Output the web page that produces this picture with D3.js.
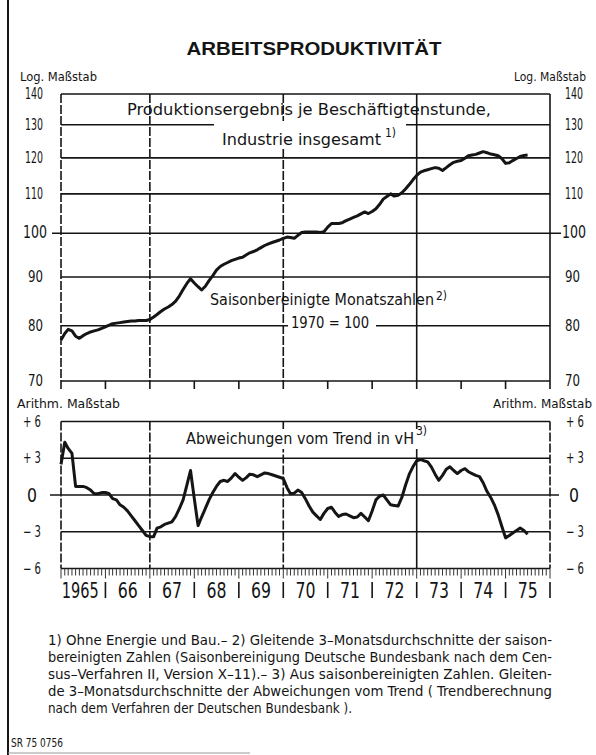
<!DOCTYPE html>
<html>
<head>
<meta charset="utf-8">
<script src="https://cdn.jsdelivr.net/npm/d3@7"></script>
<style>
body { margin: 0; background: #fff; }
text { font-family: "Liberation Sans Narrow", "DejaVu Sans Condensed", sans-serif; fill: #141414; }
</style>
</head>
<body>
<div class="chart"></div>
<script>
var w = 596;
var h = 755;

var years = ["1965", "66", "67", "68", "69", "70", "71", "72", "73", "74", "75"];
var logTicks = [70, 80, 90, 100, 110, 120, 130, 140];
var trendTicks = [-6, -3, 0, 3, 6];
var trendLabels = ["\u2212 6", "\u2212 3", "0", "+ 3", "+ 6"];

// Produktionsergebnis je Beschäftigtenstunde, 1970 = 100, monthly from Jan 1965
var productivity = [
    77.3, 78.5, 79.3, 79.0, 78.0, 77.6, 78.1, 78.5, 78.8, 79.0, 79.2, 79.5,
    79.8, 80.1, 80.4, 80.5, 80.6, 80.7, 80.8, 80.9, 80.9, 81.0, 81.0, 81.0,
    81.2, 81.7, 82.2, 82.8, 83.3, 83.7, 84.2, 84.9, 86.0, 87.3, 88.6, 89.6,
    88.7, 87.9, 87.2, 88.0, 89.2, 90.3, 91.5, 92.3, 92.8, 93.2, 93.6, 93.9,
    94.2, 94.4, 94.9, 95.4, 95.7, 96.1, 96.6, 97.1, 97.5, 97.8, 98.1, 98.4,
    98.8, 99.1, 99.0, 98.8, 99.5, 100.2, 100.3, 100.3, 100.3, 100.3, 100.2, 100.4,
    101.5, 102.4, 102.4, 102.4, 102.6, 103.1, 103.5, 103.9, 104.3, 104.8, 105.3, 104.9,
    105.4, 106.1, 107.2, 108.6, 109.3, 110.0, 109.4, 109.6, 110.3, 111.3, 112.5, 113.8,
    115.0, 115.9, 116.3, 116.6, 116.9, 117.2, 117.0, 116.4, 117.2, 118.0, 118.7, 119.0,
    119.2, 119.9, 120.6, 120.8, 121.0, 121.4, 121.8, 121.5, 121.1, 120.9, 120.6, 119.8,
    118.4, 118.6, 119.2, 119.8, 120.4, 120.7, 120.8
];

// Abweichungen vom Trend in vH, monthly from Jan 1965
var deviation = [
    2.5, 4.3, 3.8, 3.4, 0.7, 0.7, 0.7, 0.6, 0.4, 0.1, 0.1, 0.2,
    0.2, 0.1, -0.3, -0.4, -0.8, -1.0, -1.3, -1.7, -2.1, -2.5, -2.9, -3.3,
    -3.4, -3.4, -2.7, -2.6, -2.4, -2.3, -2.2, -1.75, -1.1, -0.4, 0.8, 2.0,
    -0.3, -2.5, -1.8, -1.1, -0.4, 0.2, 0.7, 1.1, 1.2, 1.1, 1.4, 1.75,
    1.45, 1.2, 1.4, 1.7, 1.65, 1.5, 1.65, 1.8, 1.75, 1.65, 1.55, 1.45,
    1.35, 0.6, 0.1, 0.15, 0.4, 0.2, -0.3, -0.9, -1.4, -1.7, -2.0, -1.5,
    -1.1, -1.0, -1.4, -1.75, -1.6, -1.55, -1.7, -1.85, -1.8, -1.5, -1.8, -2.1,
    -1.3, -0.4, -0.1, 0.0, -0.4, -0.8, -0.85, -0.9, -0.2, 0.8, 1.7, 2.3,
    2.8, 2.9, 2.8, 2.7, 2.3, 1.7, 1.2, 1.6, 2.1, 2.3, 2.0, 1.75,
    2.0, 2.15, 1.9, 1.75, 1.6, 1.5, 1.0, 0.3, -0.2, -0.8, -1.6, -2.55,
    -3.5, -3.3, -3.1, -2.9, -2.7, -2.9, -3.2
];

var footnotes = [
    "1) Ohne Energie und Bau.\u2013 2) Gleitende 3\u2013Monatsdurchschnitte der saison-",
    "bereinigten Zahlen (Saisonbereinigung Deutsche Bundesbank nach dem Cen-",
    "sus\u2013Verfahren II, Version X\u201311).\u2013 3) Aus saisonbereinigten Zahlen. Gleiten-",
    "de 3\u2013Monatsdurchschnitte der Abweichungen vom Trend ( Trendberechnung",
    "nach dem Verfahren der Deutschen Bundesbank )."
];

function monthDate(i) {
    return new Date(1965, i, 1);
}

var x = d3.scaleTime()
    .domain([new Date(1965, 0, 1), new Date(1976, 0, 1)])
    .range([61, 550]);

var yTop = d3.scaleLog()
    .domain([70, 140])
    .range([381, 94]);

var yBot = d3.scaleLinear()
    .domain([-6, 6])
    .range([568.5, 421.5]);

var svg = d3.select(".chart")
    .append("svg")
    .attr("width", w)
    .attr("height", h);

var ink = "#151515";

// page frame on the left and bottom
svg.append("line")
    .attr("x1", 8).attr("x2", 8).attr("y1", 0).attr("y2", h)
    .attr("stroke", ink).attr("stroke-width", 2);
svg.append("line")
    .attr("x1", 8).attr("x2", 250).attr("y1", 753).attr("y2", 753)
    .attr("stroke", "#999").attr("stroke-width", 1);

function label(px, py, str, size, len, anchor) {
    var t = svg.append("text")
        .attr("x", px)
        .attr("y", py)
        .attr("font-size", size)
        .attr("text-anchor", anchor || "start")
        .text(str);
    if (len) {
        t.attr("textLength", len).attr("lengthAdjust", "spacingAndGlyphs");
    }
    return t;
}

// narrow widths for tick numbers, like the condensed print face
function numWidth(s) {
    if (s === "100") return 24;
    if (s === "0") return 9;
    return s.length >= 3 ? 18 : 15;
}

var x0 = x.range()[0], x1 = x.range()[1];
var yearStarts = d3.timeYear.range(new Date(1965, 0, 1), new Date(1977, 0, 1));

// ---- upper panel: log scale ----
var gTop = svg.append("g");

gTop.selectAll("line.h")
    .data(logTicks)
    .enter()
    .append("line")
    .attr("class", "h")
    .attr("x1", function(d) { return d === 100 ? 52 : x0; })
    .attr("x2", function(d) { return d === 100 ? 561 : x1; })
    .attr("y1", function(d) { return yTop(d); })
    .attr("y2", function(d) { return yTop(d); })
    .attr("stroke", ink)
    .attr("stroke-width", 1.6);

gTop.selectAll("line.v")
    .data([1965, 1967, 1970, 1973, 1976])
    .enter()
    .append("line")
    .attr("class", "v")
    .attr("x1", function(d) { return x(new Date(d, 0, 1)); })
    .attr("x2", function(d) { return x(new Date(d, 0, 1)); })
    .attr("y1", yTop(140))
    .attr("y2", yTop(70))
    .attr("stroke", ink)
    .attr("stroke-width", 1.6)
    .attr("stroke-dasharray", function(d) { return d === 1967 || d === 1970 || d === 1965 ? "9,2" : null; });

// year ticks below the 70 line
gTop.selectAll("line.t")
    .data(yearStarts)
    .enter()
    .append("line")
    .attr("class", "t")
    .attr("x1", function(d) { return x(d); })
    .attr("x2", function(d) { return x(d); })
    .attr("y1", yTop(70))
    .attr("y2", yTop(70) + 8)
    .attr("stroke", ink)
    .attr("stroke-width", 1.6);

// labels inside upper panel
label(127, 115, "Produktionsergebnis je Besch\u00e4ftigtenstunde,", 16, 364);
svg.append("rect")
    .attr("x", 214).attr("y", 121).attr("width", 192).attr("height", 27)
    .attr("fill", "#fff");
label(222, 145, "Industrie insgesamt", 16, 159);
label(385, 137, "1)", 12);
label(210, 305, "Saisonbereinigte Monatszahlen", 16, 224);
label(436, 300, "2)", 12);
svg.append("rect")
    .attr("x", 288).attr("y", 313).attr("width", 88).attr("height", 18)
    .attr("fill", "#fff");
label(291, 328, "1970 = 100", 16, 78);

gTop.append("path")
    .datum(productivity)
    .attr("fill", "none")
    .attr("stroke", ink)
    .attr("stroke-width", 3)
    .attr("stroke-linejoin", "round")
    .attr("d", d3.line()
        .x(function(d, i) { return x(monthDate(i)); })
        .y(function(d) { return yTop(d); }));

// axis labels upper
gTop.selectAll("text.l")
    .data(logTicks)
    .enter()
    .append("text")
    .attr("class", "l")
    .attr("x", function(d) { return d === 100 ? 47 : 43; })
    .attr("y", function(d) { return yTop(d) + 5; })
    .attr("text-anchor", "end")
    .attr("font-size", function(d) { return d === 100 ? 18 : 15; })
    .attr("textLength", function(d) { return numWidth(String(d)); })
    .attr("lengthAdjust", "spacingAndGlyphs")
    .text(function(d) { return d; });

gTop.selectAll("text.r")
    .data(logTicks)
    .enter()
    .append("text")
    .attr("class", "r")
    .attr("x", function(d) { return d === 100 ? 562 : 565; })
    .attr("y", function(d) { return yTop(d) + 5; })
    .attr("font-size", function(d) { return d === 100 ? 18 : 15; })
    .attr("textLength", function(d) { return numWidth(String(d)); })
    .attr("lengthAdjust", "spacingAndGlyphs")
    .text(function(d) { return d; });

label(20, 81, "Log. Ma\u00dfstab", 13, 77);
label(514, 81, "Log. Ma\u00dfstab", 13, 72);

// ---- lower panel: deviations ----
var gBot = svg.append("g");

gBot.selectAll("line.h")
    .data(trendTicks)
    .enter()
    .append("line")
    .attr("class", "h")
    .attr("x1", function(d) { return d === 0 ? 50 : x0; })
    .attr("x2", function(d) { return d === 0 ? 559 : x1; })
    .attr("y1", function(d) { return yBot(d); })
    .attr("y2", function(d) { return yBot(d); })
    .attr("stroke", ink)
    .attr("stroke-width", 1.6);

gBot.selectAll("line.v")
    .data([1965, 1967, 1970, 1973, 1976])
    .enter()
    .append("line")
    .attr("class", "v")
    .attr("x1", function(d) { return x(new Date(d, 0, 1)); })
    .attr("x2", function(d) { return x(new Date(d, 0, 1)); })
    .attr("y1", yBot(6))
    .attr("y2", yBot(-6))
    .attr("stroke", ink)
    .attr("stroke-width", 1.6)
    .attr("stroke-dasharray", function(d) { return d === 1973 ? null : "9,2"; });

// month ticks below the -6 line
gBot.selectAll("line.m")
    .data(d3.timeMonth.range(new Date(1965, 0, 1), new Date(1976, 1, 1)))
    .enter()
    .append("line")
    .attr("class", "m")
    .attr("x1", function(d) { return x(d); })
    .attr("x2", function(d) { return x(d); })
    .attr("y1", yBot(-6))
    .attr("y2", function(d) { return yBot(-6) + (d.getMonth() === 0 ? 10 : 7); })
    .attr("stroke", "#333")
    .attr("stroke-width", 1);

// year separators in the label row
gBot.selectAll("line.s")
    .data(yearStarts.slice(1))
    .enter()
    .append("line")
    .attr("class", "s")
    .attr("x1", function(d) { return x(d); })
    .attr("x2", function(d) { return x(d); })
    .attr("y1", 582)
    .attr("y2", 598)
    .attr("stroke", ink)
    .attr("stroke-width", 1.6);

gBot.selectAll("text.y")
    .data(years)
    .enter()
    .append("text")
    .attr("class", "y")
    .attr("x", function(d, i) {
        return (x(new Date(1965 + i, 0, 1)) + x(new Date(1966 + i, 0, 1))) / 2 - (i === 0 ? 3 : 0);
    })
    .attr("y", 598)
    .attr("text-anchor", "middle")
    .attr("font-size", 21)
    .attr("textLength", function(d) { return d.length === 4 ? 37 : 20; })
    .attr("lengthAdjust", "spacingAndGlyphs")
    .text(function(d) { return d; });

svg.append("rect")
    .attr("x", 183).attr("y", 429).attr("width", 250).attr("height", 20)
    .attr("fill", "#fff");
label(186, 444, "Abweichungen vom Trend in vH", 16, 228);
label(416, 435, "3)", 12);

gBot.append("path")
    .datum(deviation)
    .attr("fill", "none")
    .attr("stroke", ink)
    .attr("stroke-width", 3)
    .attr("stroke-linejoin", "round")
    .attr("d", d3.line()
        .x(function(d, i) { return x(monthDate(i)); })
        .y(function(d) { return yBot(d); }));

gBot.selectAll("text.l")
    .data(trendTicks)
    .enter()
    .append("text")
    .attr("class", "l")
    .attr("x", function(d) { return d === 0 ? 37 : 41; })
    .attr("y", function(d) { return yBot(d) + (d === 0 ? 7 : 5); })
    .attr("text-anchor", "end")
    .attr("font-size", function(d) { return d === 0 ? 19 : 15; })
    .attr("textLength", function(d) { return d === 0 ? 10 : 18; })
    .attr("lengthAdjust", "spacingAndGlyphs")
    .text(function(d, i) { return trendLabels[i]; });

gBot.selectAll("text.r")
    .data(trendTicks)
    .enter()
    .append("text")
    .attr("class", "r")
    .attr("x", function(d) { return d === 0 ? 569 : 566; })
    .attr("y", function(d) { return yBot(d) + (d === 0 ? 7 : 5); })
    .attr("font-size", function(d) { return d === 0 ? 19 : 15; })
    .attr("textLength", function(d) { return d === 0 ? 10 : 18; })
    .attr("lengthAdjust", "spacingAndGlyphs")
    .text(function(d, i) { return trendLabels[i]; });

label(17, 408, "Arithm. Ma\u00dfstab", 13, 103);
label(493, 408, "Arithm. Ma\u00dfstab", 13, 99);

// ---- title, footnotes ----
svg.append("text")
    .attr("x", 314)
    .attr("y", 55)
    .attr("text-anchor", "middle")
    .attr("font-size", 18)
    .attr("textLength", 255)
    .attr("lengthAdjust", "spacingAndGlyphs")
    .style("font-family", "'Liberation Sans', Arial, sans-serif")
    .style("font-weight", "bold")
    .text("ARBEITSPRODUKTIVIT\u00c4T");

svg.selectAll("text.fn")
    .data(footnotes)
    .enter()
    .append("text")
    .attr("class", "fn")
    .attr("x", 48)
    .attr("y", function(d, i) { return 645 + i * 17; })
    .attr("font-size", 14)
    .attr("textLength", function(d, i) { return i < 4 ? 504 : 304; })
    .attr("lengthAdjust", "spacingAndGlyphs")
    .text(function(d) { return d; });

label(11, 747, "SR 75 0756", 13, 52);
</script>
</body>
</html>
